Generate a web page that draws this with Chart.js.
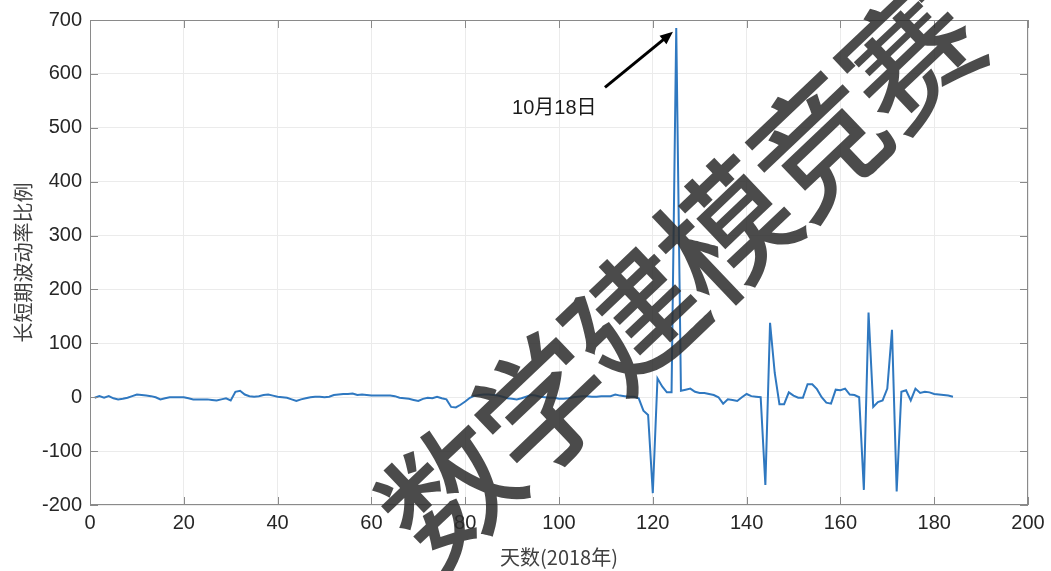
<!DOCTYPE html>
<html>
<head>
<meta charset="utf-8">
<script src="https://cdn.jsdelivr.net/npm/chart.js@4/dist/chart.umd.min.js"></script>
<style>
  html, body { margin: 0; padding: 0; background: #fff; }
  #wrap { width: 1051px; height: 571px; }
</style>
</head>
<body>
<div id="wrap"><canvas id="chart" width="1051" height="571"></canvas></div>
<script>
// data
const days = []
for (let d = 1; d <= 184; d++) days.push(d)

const ratio = [
  -1, 2, -1, 2, -2, -4, -3, -1, 2, 5,
  4, 3, 2, 0, -4, -2, 0, 0, 0, 0,
  -2, -4, -4, -4, -4, -5, -6, -4, -2, -6,
  10, 12, 5, 2, 1, 2, 4, 5, 3, 1,
  0, -1, -4, -7, -4, -2, 0, 1, 1, 0,
  1, 4, 5, 6, 6, 7, 4, 5, 4, 3,
  3, 3, 3, 3, 2, -1, -2, -3, -5, -7,
  -3, -1, -2, 1, -2, -4, -18, -19, -14, -8,
  -1, 3, 4, 5, 5, 4, 3, 1, -2, -3,
  -4, -2, 1, 4, 3, 1, 0, -1, -1, -3,
  -3, -2, 0, 1, 2, 2, 1, 1, 2, 2,
  2, 5, 3, 2, 1, 1, -2, -25, -33, -178,
  35, 20, 9, 9, 685, 12, 14, 16, 10, 8,
  8, 6, 4, 0, -12, -4, -5, -7, 0, 6,
  2, 1, 0, -163, 138, 45, -13, -13, 9, 3,
  -1, -1, 24, 24, 15, 0, -10, -12, 14, 13,
  16, 5, 4, 0, -172, 157, -18, -9, -6, 16,
  125, -175, 10, 13, -6, 16, 8, 10, 9, 6,
  5, 4, 3, 1
]

const xTicks = [0, 20, 40, 60, 80, 100, 120, 140, 160, 180, 200]
const yTicks = [-200, -100, 0, 100, 200, 300, 400, 500, 600, 700]

const noteText = '10月18日'
const notePos = [99, 536]
const arrowFrom = [109.8, 575]
const arrowTo = [124.3, 678]

const watermark = ['数', '学', '建', '模', '竞', '赛']

const blue = '#2f78c0'
const axisGray = '#8a8a8a'

// box, inward ticks, arrow note, watermark
const decor = {
  id: 'decor',
  afterDraw(chart) {
    const { ctx, chartArea: a, scales } = chart
    const xs = scales.x, ys = scales.y
    ctx.save()
    ctx.strokeStyle = axisGray
    ctx.lineWidth = 1
    ctx.strokeRect(a.left + 0.5, a.top + 0.5, a.right - a.left - 1, a.bottom - a.top - 1)
    const tl = 8
    ctx.beginPath()
    xTicks.forEach(v => {
      const x = Math.round(xs.getPixelForValue(v)) + 0.5
      ctx.moveTo(x, a.bottom); ctx.lineTo(x, a.bottom - tl)
      ctx.moveTo(x, a.top); ctx.lineTo(x, a.top + tl)
    })
    yTicks.forEach(v => {
      const y = Math.round(ys.getPixelForValue(v)) + 0.5
      ctx.moveTo(a.left, y); ctx.lineTo(a.left + tl, y)
      ctx.moveTo(a.right, y); ctx.lineTo(a.right - tl, y)
    })
    ctx.stroke()

    // arrow
    const x0 = xs.getPixelForValue(arrowFrom[0]), y0 = ys.getPixelForValue(arrowFrom[1])
    const x1 = xs.getPixelForValue(arrowTo[0]), y1 = ys.getPixelForValue(arrowTo[1])
    const ang = Math.atan2(y1 - y0, x1 - x0)
    const hl = 14
    ctx.strokeStyle = '#000'
    ctx.fillStyle = '#000'
    ctx.lineWidth = 3
    ctx.beginPath()
    ctx.moveTo(x0, y0)
    ctx.lineTo(x1 - Math.cos(ang) * hl * 0.8, y1 - Math.sin(ang) * hl * 0.8)
    ctx.stroke()
    ctx.beginPath()
    ctx.moveTo(x1, y1)
    ctx.lineTo(x1 - hl * Math.cos(ang - 0.4), y1 - hl * Math.sin(ang - 0.4))
    ctx.lineTo(x1 - hl * Math.cos(ang + 0.4), y1 - hl * Math.sin(ang + 0.4))
    ctx.closePath()
    ctx.fill()

    ctx.fillStyle = '#1a1a1a'
    ctx.font = '20px "Liberation Sans", Arial, "Noto Sans CJK SC", sans-serif'
    ctx.textAlign = 'center'
    ctx.textBaseline = 'middle'
    ctx.fillText(noteText, xs.getPixelForValue(notePos[0]), ys.getPixelForValue(notePos[1]))

    // watermark
    ctx.fillStyle = 'rgba(45,45,45,0.86)'
    ctx.font = '500 132px "Noto Sans CJK SC", sans-serif'
    watermark.forEach((ch, i) => {
      ctx.save()
      ctx.translate(450 + i * 92, 492 - i * 87)
      ctx.rotate(-0.76)
      ctx.fillText(ch, 0, 0)
      ctx.restore()
    })
    ctx.restore()
  }
}

const tickFont = { family: '"Liberation Sans", Arial, sans-serif', size: 20 }
const titleFont = { family: '"Noto Sans CJK SC", "Liberation Sans", sans-serif', size: 20 }

new Chart(document.getElementById('chart'), {
  type: 'line',
  data: {
    datasets: [{
      data: days.map((d, i) => ({ x: d, y: ratio[i] })),
      borderColor: blue,
      borderWidth: 2,
      pointRadius: 0,
      tension: 0,
      fill: false,
    }],
  },
  options: {
    responsive: false,
    devicePixelRatio: 1,
    animation: false,
    layout: { padding: { top: 18, right: 23, left: 0, bottom: 0 } },
    plugins: { legend: { display: false }, tooltip: { enabled: false } },
    scales: {
      x: {
        type: 'linear',
        min: 0,
        max: 200,
        afterBuildTicks: s => { s.ticks = xTicks.map(v => ({ value: v })) },
        afterFit: s => { s.height = 66 },
        ticks: { color: '#262626', font: tickFont, padding: 6, maxRotation: 0 },
        grid: { color: '#ebebeb', drawTicks: false },
        border: { display: false },
        title: {
          display: true,
          text: '天数(2018年)',
          color: '#404040',
          font: titleFont,
          padding: { top: 0, bottom: 2 },
        },
      },
      y: {
        min: -200,
        max: 700,
        afterBuildTicks: s => { s.ticks = yTicks.map(v => ({ value: v })) },
        afterFit: s => { s.width = 90 },
        ticks: { color: '#262626', font: tickFont, padding: 8 },
        grid: { color: '#ebebeb', drawTicks: false },
        border: { display: false },
        title: {
          display: true,
          text: '长短期波动率比例',
          color: '#404040',
          font: titleFont,
          padding: { top: 11, bottom: 0 },
        },
      },
    },
  },
  plugins: [decor],
})
</script>
</body>
</html>
